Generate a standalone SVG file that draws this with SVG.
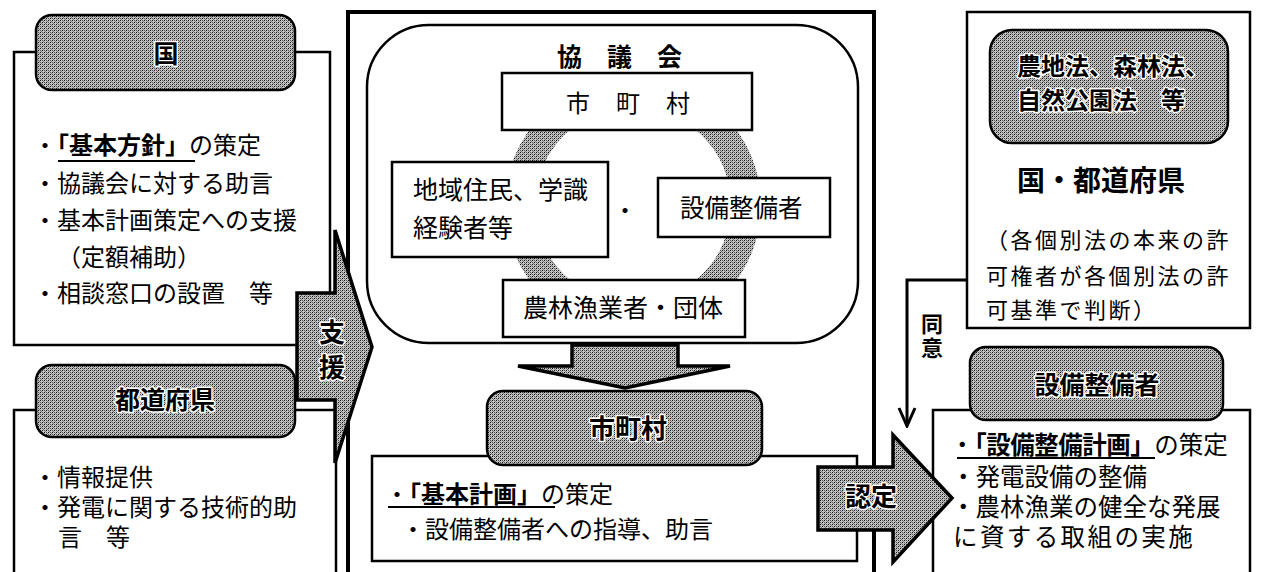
<svg xmlns="http://www.w3.org/2000/svg" width="1264" height="572" viewBox="0 0 1264 572">
<defs>
<pattern id="dot" width="4" height="4" patternUnits="userSpaceOnUse">
<rect width="4" height="4" fill="#c4c4c4"/>
<rect x="0" y="0" width="1" height="1" fill="#111"/>
<rect x="2" y="2" width="1" height="1" fill="#111"/>
<rect x="2" y="0" width="1" height="1" fill="#555"/>
<rect x="0" y="2" width="1" height="1" fill="#555"/>
<rect x="1" y="3" width="1" height="1" fill="#777"/>
<rect x="3" y="1" width="1" height="1" fill="#777"/>
</pattern>
<marker id="vhead" viewBox="-20 -10 22 20" refX="0" refY="0" markerWidth="22" markerHeight="20" markerUnits="userSpaceOnUse" orient="auto">
<path d="M-18,-8 L0,0 L-18,8" fill="none" stroke="#000" stroke-width="3"/>
</marker>
</defs>
<style>
.box{fill:#fff;stroke:#000;stroke-width:2.5}
.pill{fill:url(#dot);stroke:#000;stroke-width:2.5}
.arrow{fill:url(#dot);stroke:#000;stroke-width:3.5;stroke-linejoin:miter}
.t{font-family:"Noto Sans CJK JP","Noto Sans CJK SC",sans-serif;fill:#000}
.h{font-family:"Noto Sans CJK JP","Noto Sans CJK SC",sans-serif;font-weight:700;fill:#000;stroke:#fff;stroke-width:3;paint-order:stroke;stroke-linejoin:round}
.b{font-weight:700}
.ul{stroke:#000;stroke-width:2}
</style>
<rect width="1264" height="572" fill="#fff"/>

<g id="node-kuni">
<rect class="box" x="14" y="52" width="316" height="293"/>
<rect class="pill" x="36" y="15" width="259" height="75" rx="16"/>
<text class="h" x="166" y="63" font-size="25" text-anchor="middle">国</text>
<g class="t" font-size="24">
<text x="33" y="154">・<tspan class="b">「基本方針」</tspan>の策定</text>
<text x="33" y="192">・協議会に対する助言</text>
<text x="33" y="229">・基本計画策定への支援</text>
<text x="57" y="266">（定額補助）</text>
<text x="33" y="302">・相談窓口の設置　等</text>
</g>
<line class="ul" x1="58" y1="161" x2="195" y2="161"/>
</g>

<g id="node-todofuken">
<rect class="box" x="14" y="410" width="322" height="175"/>
<rect class="pill" x="36" y="365" width="259" height="72" rx="16"/>
<text class="h" x="165" y="409" font-size="25" text-anchor="middle">都道府県</text>
<text class="t" font-size="24"><tspan x="33" y="486">・情報提供</tspan><tspan x="33" y="516">・発電に関する技術的助</tspan><tspan x="58" y="546">言　等</tspan></text>
</g>

<g id="node-center-frame">
<rect x="348" y="12" width="526" height="580" fill="none" stroke="#000" stroke-width="4"/>
</g>

<g id="node-kyogikai">
<rect x="367" y="25" width="491" height="318" rx="62" fill="none" stroke="#000" stroke-width="2.5"/>
<text class="t b" x="557" y="66" font-size="25" letter-spacing="25">協議会</text>
<path fill="url(#dot)" fill-rule="evenodd" d="M505,205 a128,128 0 1,0 256,0 a128,128 0 1,0 -256,0 Z M535,205 a98,98 0 1,0 196,0 a98,98 0 1,0 -196,0 Z"/>
<text class="t" x="625" y="219" font-size="24" text-anchor="middle">・</text>
</g>

<g id="node-shichoson-member">
<rect class="box" x="502" y="73" width="250" height="57"/>
<text class="t" x="566" y="112" font-size="24" letter-spacing="26">市町村</text>
</g>

<g id="node-jumin">
<rect class="box" x="392" y="162" width="216" height="95"/>
<text class="t" font-size="25"><tspan x="413" y="199">地域住民、学識</tspan><tspan x="413" y="237">経験者等</tspan></text>
</g>

<g id="node-setsubi-member">
<rect class="box" x="658" y="178" width="172" height="59"/>
<text class="t" x="680" y="217" font-size="24.5">設備整備者</text>
</g>

<g id="node-noringyo">
<rect class="box" x="503" y="280" width="242" height="57"/>
<text class="t" x="523" y="317" font-size="25">農林漁業者・団体</text>
</g>

<g id="node-shichoson">
<rect class="box" x="372" y="456" width="485" height="105"/>
<rect class="pill" x="487" y="391" width="275" height="74" rx="16"/>
<text class="h" x="628" y="438" font-size="26" text-anchor="middle">市町村</text>
<text class="t" font-size="24"><tspan x="385" y="503">・</tspan><tspan class="b">「基本計画」</tspan><tspan>の策定</tspan><tspan x="401" y="538">・設備整備者への指導、助言</tspan></text>
<line class="ul" x1="388" y1="507" x2="555" y2="507"/>
</g>

<g id="node-kyoka">
<rect class="box" x="967" y="12" width="283" height="316"/>
<rect class="pill" x="990" y="30" width="238" height="113" rx="22"/>
<text class="h" font-size="24"><tspan x="1017" y="75">農地法、森林法、</tspan><tspan x="1017" y="109">自然公園法　等</tspan></text>
<text class="t b" x="1017" y="191" font-size="28">国・都道府県</text>
<text class="t" font-size="22" letter-spacing="2.5"><tspan x="986" y="248">（各個別法の本来の許</tspan><tspan x="986" y="284">可権者が各個別法の許</tspan><tspan x="986" y="318">可基準で判断）</tspan></text>
</g>

<g id="node-setsubi">
<rect class="box" x="933" y="410" width="317" height="180" stroke-width="3"/>
<rect class="pill" x="970" y="347" width="253" height="73" rx="16"/>
<text class="h" x="1097" y="394" font-size="25" text-anchor="middle">設備整備者</text>
<text class="t" font-size="24.5"><tspan x="950" y="454">・</tspan><tspan class="b" letter-spacing="-0.5">「設備整備計画」</tspan><tspan>の策定</tspan><tspan x="951" y="486">・発電設備の整備</tspan><tspan x="951" y="516">・農林漁業の健全な発展</tspan><tspan x="953" y="546" letter-spacing="2.4">に資する取組の実施</tspan></text>
<line class="ul" x1="957" y1="458" x2="1155" y2="458"/>
</g>

<g id="connectors">
<polygon class="arrow" stroke-width="1.5" points="572,345 678,345 678,366 730,366 625,388 518,366 572,366"/>
<polygon class="arrow" points="297,293 335,293 335,230 372,347 335,463 335,400 297,400"/>
<text class="h" font-size="26" text-anchor="middle"><tspan x="332" y="342">支</tspan><tspan x="332" y="377">援</tspan></text>
<polygon class="arrow" points="818,467 893,467 893,435 952,498 893,562 893,530 818,530"/>
<text class="h" x="871" y="506" font-size="26" text-anchor="middle">認定</text>
<path d="M967,280 H907 V426" fill="none" stroke="#000" stroke-width="3" marker-end="url(#vhead)"/>
<text class="t b" x="932" y="313" font-size="22" writing-mode="vertical-rl" letter-spacing="2">同意</text>
</g>
</svg>
